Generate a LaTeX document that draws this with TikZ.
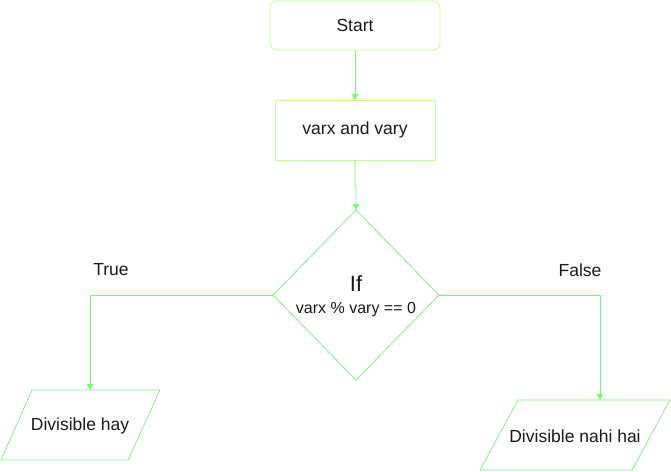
\documentclass[tikz,border=0pt]{standalone}
\usepackage{fontspec}
\setmainfont{Liberation Sans}
\usetikzlibrary{arrows.meta,shapes.geometric}
\definecolor{pale}{HTML}{C2FF8F}
\definecolor{lgreen}{HTML}{66FF66}
\definecolor{sgreen}{HTML}{80F080}
\tikzset{
  conn/.style={draw=lgreen, line width=0.8pt, -{Triangle[length=6pt,width=6pt]}},
  txt/.style={font=\fontsize{17.5}{20}\selectfont, text=black!90},
}
\begin{document}
\begin{tikzpicture}[x=1pt,y=-1pt]
\useasboundingbox (0,0) rectangle (671,471);
% Start
\draw[pale, line width=0.8pt, rounded corners=7pt] (270,1) rectangle (440,50);
\node[txt] (start) at (355,25.5) {Start};
\coordinate (startb) at (355,50);
% input box
\draw[pale, line width=0.8pt] (275,100) rectangle (435,160);
\node[txt] (inp) at (355,130) {varx and vary};
\coordinate (inpt) at (355,100);
\coordinate (inpb) at (355,160);
% diamond
\draw[sgreen, line width=0.8pt] (356,210) -- (439,295) -- (356,380) -- (273,295) -- cycle;
\coordinate (dt) at (356,210);
\coordinate (dl) at (273,295);
\coordinate (dr) at (439,295);
\node[font=\fontsize{22}{24}\selectfont, text=black!90] (ifl) at (356,284) {If};
\node[font=\fontsize{16}{18}\selectfont, text=black!90] (cond) at (356,310) {varx \% vary == 0};
% left parallelogram
\draw[sgreen, line width=0.8pt] (1,460) -- (32,390) -- (160,390) -- (128,460) -- cycle;
\node[txt] (yes) at (80,426) {Divisible hay};
\coordinate (yt) at (90,390);
% right parallelogram
\draw[sgreen, line width=0.8pt] (480,470) -- (518,400) -- (670,400) -- (632,470) -- cycle;
\node[txt] (no) at (575,436) {Divisible nahi hai};
\coordinate (nt) at (600,400);
% labels
\node[txt] (tl) at (111,270) {True};
\node[txt] (fl) at (580,270) {False};
% connectors
\draw[conn] (startb) -- (inpt);
\draw[conn] (inpb) -- (355,185) -- (356,186) -- (dt);
\draw[conn] (dl) -- (90,295) -- (yt);
\draw[conn] (dr) -- (600,295) -- (nt);
\end{tikzpicture}
\end{document}
